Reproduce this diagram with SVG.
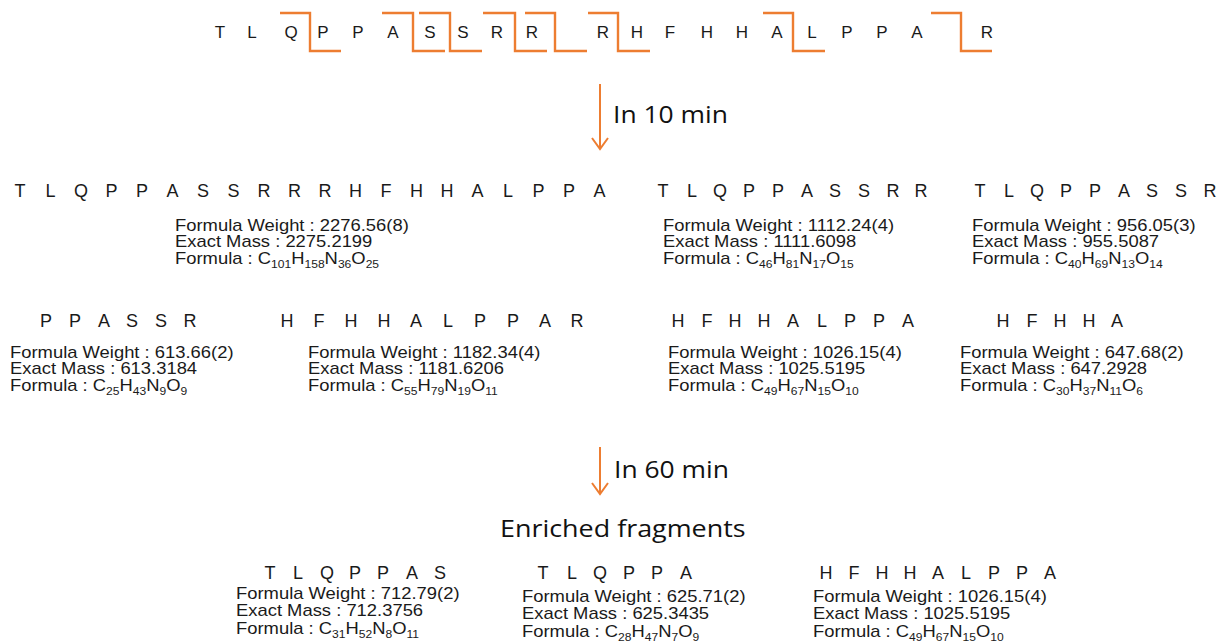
<svg xmlns="http://www.w3.org/2000/svg" width="1222" height="641" viewBox="0 0 1222 641">
  <style>
    .seq { font-family: "Liberation Sans", Arial, sans-serif; font-size: 18px; fill: #1a1a1a; text-anchor: middle; }
    .top { font-size: 17px; }
    .info text { font-family: "Liberation Sans", Arial, sans-serif; font-size: 16px; fill: #1a1a1a; }
    .s { font-size: 10.5px; }
    .step { fill: none; stroke: #ED7D31; stroke-width: 2.4; }
    .arrow { fill: none; stroke: #ED7D31; stroke-width: 2; }
    .note { font-family: "Open Sans", "Noto Sans", sans-serif; font-size: 23px; fill: #111; }
  </style>

  <!-- full peptide with cleavage sites -->
  <g id="peptide">
    <text class="seq top" y="38" x="220 236 252 271 291 307 323 340 358 375 393 411 430 446 463 480 497 514 532 567 603 620 637 653 670 688 707 724 742 759 777 794 812 829 847 864 882 899 917 952 987">T L Q P P A S S R R R H F H H A L P P A R</text>
  </g>
  <g id="cleavage-sites">
    <polyline class="step" points="280,13 310,13 310,51 341,51"/>
    <polyline class="step" points="382,13 413,13 413,51 445,51"/>
    <polyline class="step" points="419,13 450,13 450,51 482,51"/>
    <polyline class="step" points="483,13 515,13 515,51 547,51"/>
    <polyline class="step" points="525,13 555,13 555,51 587,51"/>
    <polyline class="step" points="588,13 618,13 618,51 650,51"/>
    <polyline class="step" points="763,13 793,13 793,51 825,51"/>
    <polyline class="step" points="931,13 961,13 961,51 992,51"/>
  </g>

  <!-- time steps -->
  <g id="connectors">
    <line class="arrow" x1="600" y1="84" x2="600" y2="149"/>
    <polyline class="arrow" points="592,138 600,149 608,138"/>
    <line class="arrow" x1="600" y1="447" x2="600" y2="494"/>
    <polyline class="arrow" points="592,483 600,494 608,483"/>
  </g>
  <g id="step-10min"><text class="note" transform="translate(613,123) scale(1.15,1)">In 10 min</text></g>
  <g id="step-60min"><text class="note" transform="translate(614,478) scale(1.15,1)">In 60 min</text></g>
  <g id="enriched-title"><text class="note" transform="translate(500,537) scale(1.17,1)" font-size="25">Enriched fragments</text></g>

  <!-- 10 min fragments, row 1 -->
  <g id="frag-TLQPPASSRRRHFHHALPPA">
    <text class="seq" y="197" x="20 35.25 50.5 65.75 81 96.25 111.5 126.75 142 157.25 172.5 187.75 203 218.25 233.5 248.75 264 279.25 294.5 309.75 325 340.25 355.5 370.75 386 401.25 416.5 431.75 447 462.25 477.5 492.75 508 523.25 538.5 553.75 569 584.25 599.5">T L Q P P A S S R R R H F H H A L P P A</text>
    <g class="info" transform="translate(175,231) scale(1.15,1)">
      <text y="0">Formula Weight : 2276.56(8)</text>
      <text y="16.5">Exact Mass : 2275.2199</text>
      <text y="33">Formula : C<tspan class="s" dy="4">101</tspan><tspan dy="-4">H</tspan><tspan class="s" dy="4">158</tspan><tspan dy="-4">N</tspan><tspan class="s" dy="4">36</tspan><tspan dy="-4">O</tspan><tspan class="s" dy="4">25</tspan></text>
    </g>
  </g>
  <g id="frag-TLQPPASSRR">
    <text class="seq" y="197" x="663 677 692 706 720 735 749 763 778 792 807 821 835 850 864 878 893 907 921">T L Q P P A S S R R</text>
    <g class="info" transform="translate(663,231) scale(1.15,1)">
      <text y="0">Formula Weight : 1112.24(4)</text>
      <text y="16.5">Exact Mass : 1111.6098</text>
      <text y="33">Formula : C<tspan class="s" dy="4">46</tspan><tspan dy="-4">H</tspan><tspan class="s" dy="4">81</tspan><tspan dy="-4">N</tspan><tspan class="s" dy="4">17</tspan><tspan dy="-4">O</tspan><tspan class="s" dy="4">15</tspan></text>
    </g>
  </g>
  <g id="frag-TLQPPASSR">
    <text class="seq" y="197" x="980 994 1009 1023 1037 1052 1066 1080 1095 1109 1124 1138 1152 1167 1181 1195 1210">T L Q P P A S S R</text>
    <g class="info" transform="translate(972,231) scale(1.15,1)">
      <text y="0">Formula Weight : 956.05(3)</text>
      <text y="16.5">Exact Mass : 955.5087</text>
      <text y="33">Formula : C<tspan class="s" dy="4">40</tspan><tspan dy="-4">H</tspan><tspan class="s" dy="4">69</tspan><tspan dy="-4">N</tspan><tspan class="s" dy="4">13</tspan><tspan dy="-4">O</tspan><tspan class="s" dy="4">14</tspan></text>
    </g>
  </g>

  <!-- 10 min fragments, row 2 -->
  <g id="frag-PPASSR">
    <text class="seq" y="327" x="46 60 75 89 104 118 132 147 161 176 190">P P A S S R</text>
    <g class="info" transform="translate(10,358) scale(1.15,1)">
      <text y="0">Formula Weight : 613.66(2)</text>
      <text y="16.5">Exact Mass : 613.3184</text>
      <text y="33">Formula : C<tspan class="s" dy="4">25</tspan><tspan dy="-4">H</tspan><tspan class="s" dy="4">43</tspan><tspan dy="-4">N</tspan><tspan class="s" dy="4">9</tspan><tspan dy="-4">O</tspan><tspan class="s" dy="4">9</tspan></text>
    </g>
  </g>
  <g id="frag-HFHHALPPAR">
    <text class="seq" y="327" x="287 303 319 335 351 368 384 400 416 432 448 464 480 497 513 529 545 561 577">H F H H A L P P A R</text>
    <g class="info" transform="translate(308,358) scale(1.15,1)">
      <text y="0">Formula Weight : 1182.34(4)</text>
      <text y="16.5">Exact Mass : 1181.6206</text>
      <text y="33">Formula : C<tspan class="s" dy="4">55</tspan><tspan dy="-4">H</tspan><tspan class="s" dy="4">79</tspan><tspan dy="-4">N</tspan><tspan class="s" dy="4">19</tspan><tspan dy="-4">O</tspan><tspan class="s" dy="4">11</tspan></text>
    </g>
  </g>
  <g id="frag-HFHHALPPA">
    <text class="seq" y="327" x="678 692 707 721 735 750 764 779 793 807 822 836 850 865 879 893 908">H F H H A L P P A</text>
    <g class="info" transform="translate(668,358) scale(1.15,1)">
      <text y="0">Formula Weight : 1026.15(4)</text>
      <text y="16.5">Exact Mass : 1025.5195</text>
      <text y="33">Formula : C<tspan class="s" dy="4">49</tspan><tspan dy="-4">H</tspan><tspan class="s" dy="4">67</tspan><tspan dy="-4">N</tspan><tspan class="s" dy="4">15</tspan><tspan dy="-4">O</tspan><tspan class="s" dy="4">10</tspan></text>
    </g>
  </g>
  <g id="frag-HFHHA">
    <text class="seq" y="327" x="1003 1017 1032 1046 1060 1074 1089 1103 1117">H F H H A</text>
    <g class="info" transform="translate(960,358) scale(1.15,1)">
      <text y="0">Formula Weight : 647.68(2)</text>
      <text y="16.5">Exact Mass : 647.2928</text>
      <text y="33">Formula : C<tspan class="s" dy="4">30</tspan><tspan dy="-4">H</tspan><tspan class="s" dy="4">37</tspan><tspan dy="-4">N</tspan><tspan class="s" dy="4">11</tspan><tspan dy="-4">O</tspan><tspan class="s" dy="4">6</tspan></text>
    </g>
  </g>

  <!-- 60 min enriched fragments -->
  <g id="enriched-TLQPPAS">
    <text class="seq" y="579" x="270 284 298 313 327 341 355 369 383 397 412 426 440">T L Q P P A S</text>
    <g class="info" transform="translate(236,599) scale(1.15,1)">
      <text y="0">Formula Weight : 712.79(2)</text>
      <text y="17">Exact Mass : 712.3756</text>
      <text y="35">Formula : C<tspan class="s" dy="4">31</tspan><tspan dy="-4">H</tspan><tspan class="s" dy="4">52</tspan><tspan dy="-4">N</tspan><tspan class="s" dy="4">8</tspan><tspan dy="-4">O</tspan><tspan class="s" dy="4">11</tspan></text>
    </g>
  </g>
  <g id="enriched-TLQPPA">
    <text class="seq" y="579" x="543 557 572 586 600 614 629 643 657 672 686">T L Q P P A</text>
    <g class="info" transform="translate(522,602) scale(1.15,1)">
      <text y="0">Formula Weight : 625.71(2)</text>
      <text y="17">Exact Mass : 625.3435</text>
      <text y="35">Formula : C<tspan class="s" dy="4">28</tspan><tspan dy="-4">H</tspan><tspan class="s" dy="4">47</tspan><tspan dy="-4">N</tspan><tspan class="s" dy="4">7</tspan><tspan dy="-4">O</tspan><tspan class="s" dy="4">9</tspan></text>
    </g>
  </g>
  <g id="enriched-HFHHALPPA">
    <text class="seq" y="579" x="826 840 854 868 882 896 910 924 938 952 966 980 994 1008 1022 1036 1050">H F H H A L P P A</text>
    <g class="info" transform="translate(813,602) scale(1.15,1)">
      <text y="0">Formula Weight : 1026.15(4)</text>
      <text y="17">Exact Mass : 1025.5195</text>
      <text y="35">Formula : C<tspan class="s" dy="4">49</tspan><tspan dy="-4">H</tspan><tspan class="s" dy="4">67</tspan><tspan dy="-4">N</tspan><tspan class="s" dy="4">15</tspan><tspan dy="-4">O</tspan><tspan class="s" dy="4">10</tspan></text>
    </g>
  </g>
</svg>
